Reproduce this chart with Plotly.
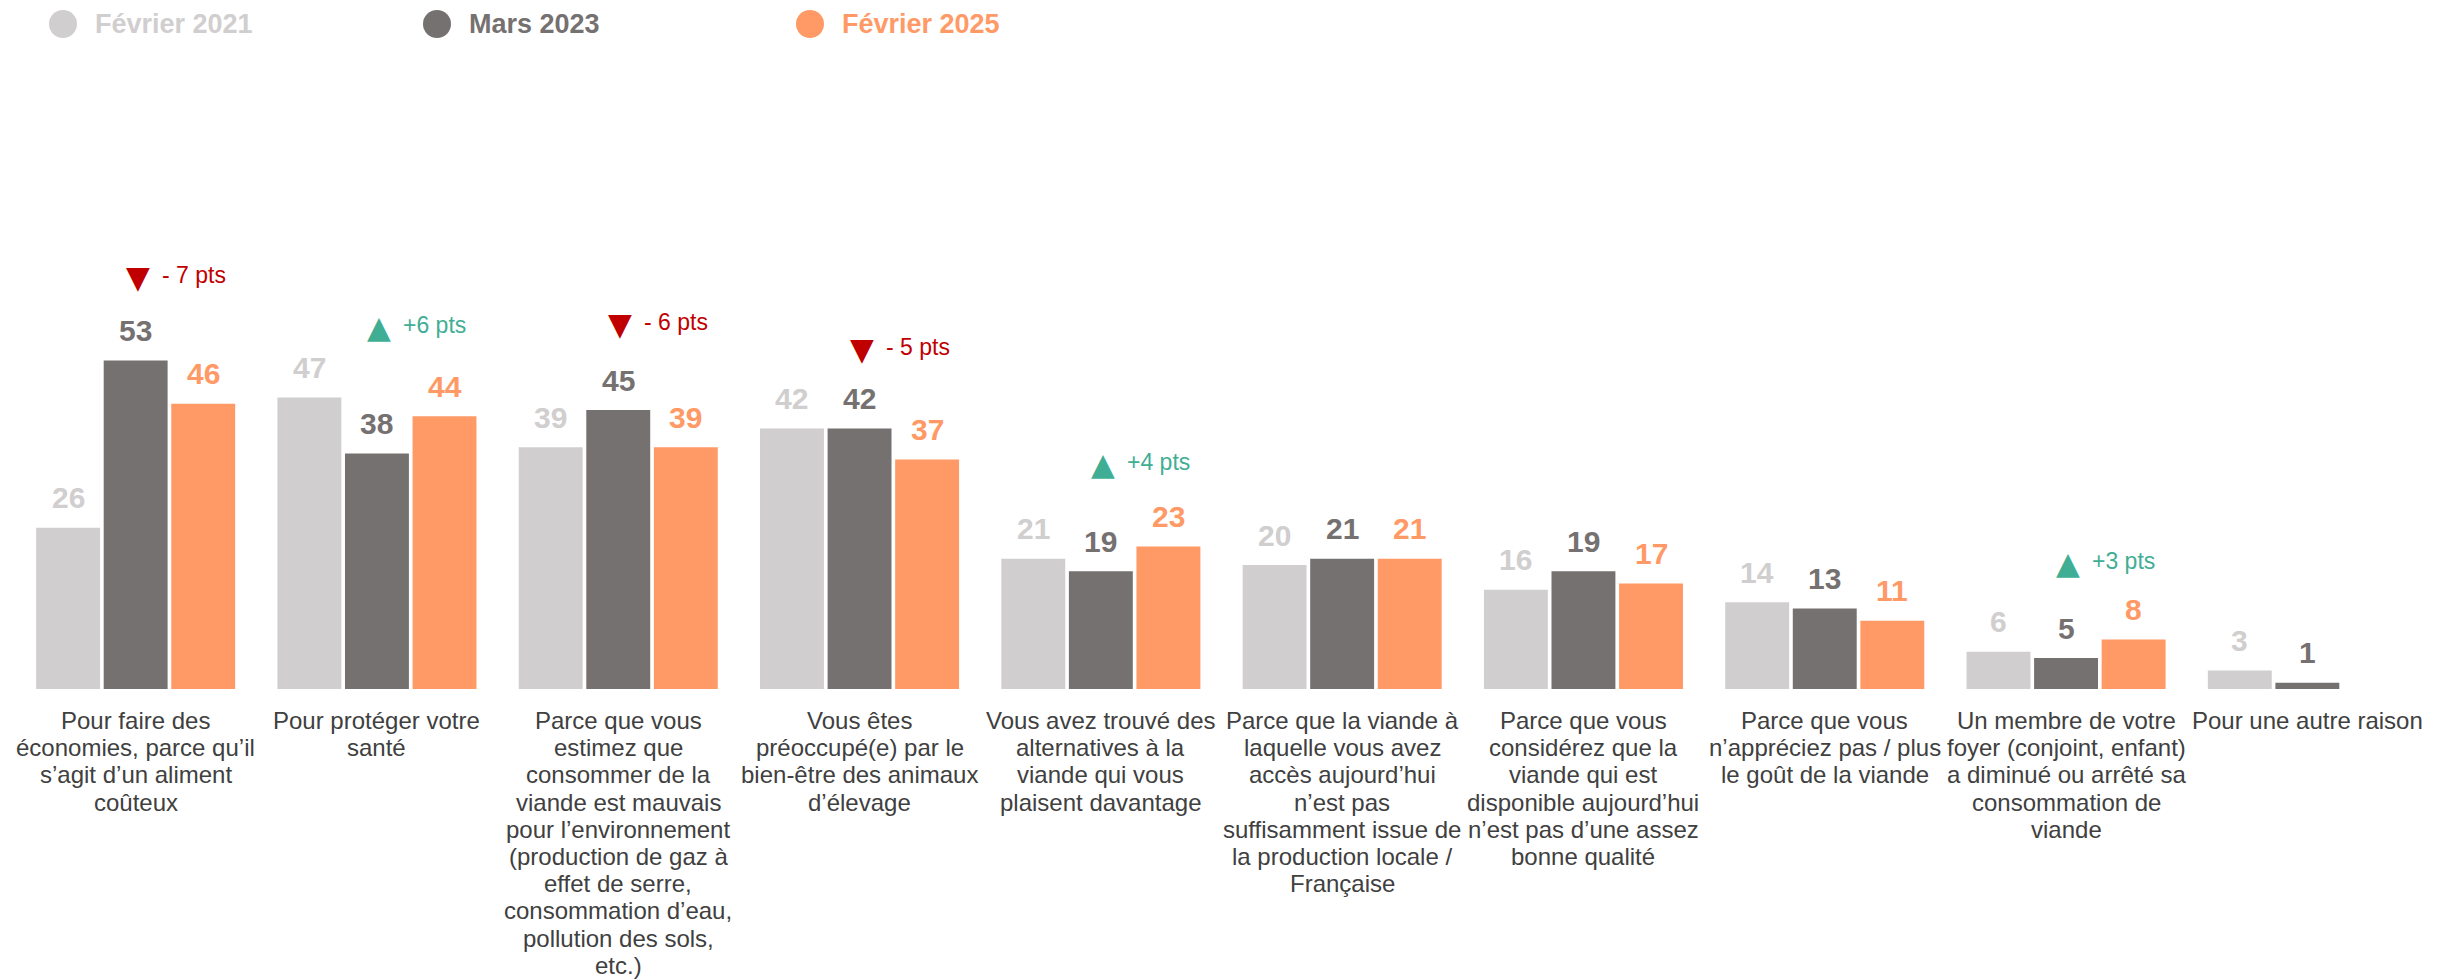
import plotly.graph_objects as go

# ---------------- data ----------------
categories = [
    "Pour faire des<br>économies, parce qu’il<br>s’agit d’un aliment<br>coûteux",
    "Pour protéger votre<br>santé",
    "Parce que vous<br>estimez que<br>consommer de la<br>viande est mauvais<br>pour l’environnement<br>(production de gaz à<br>effet de serre,<br>consommation d’eau,<br>pollution des sols,<br>etc.)",
    "Vous êtes<br>préoccupé(e) par le<br>bien-être des animaux<br>d’élevage",
    "Vous avez trouvé des<br>alternatives à la<br>viande qui vous<br>plaisent davantage",
    "Parce que la viande à<br>laquelle vous avez<br>accès aujourd’hui<br>n’est pas<br>suffisamment issue de<br>la production locale /<br>Française",
    "Parce que vous<br>considérez que la<br>viande qui est<br>disponible aujourd’hui<br>n’est pas d’une assez<br>bonne qualité",
    "Parce que vous<br>n’appréciez pas / plus<br>le goût de la viande",
    "Un membre de votre<br>foyer (conjoint, enfant)<br>a diminué ou arrêté sa<br>consommation de<br>viande",
    "Pour une autre raison",
]
series_names = ["Février 2021", "Mars 2023", "Février 2025"]
fev2021 = [26, 47, 39, 42, 21, 20, 16, 14, 6, 3]
mars2023 = [53, 38, 45, 42, 19, 21, 19, 13, 5, 1]
fev2025 = [46, 44, 39, 37, 23, 21, 17, 11, 8, None]

change_labels = ["- 7 pts", "+6 pts", "- 6 pts", "- 5 pts", "+4 pts", None, None, None, "+3 pts", None]
change_level = [66.4, 58.4, 58.8, 54.8, 36.3, None, None, None, 20.4, None]

# ---------------- style ----------------
FONT = "Arial, Liberation Sans, sans-serif"
colors = ["#D0CECE", "#767171", "#FF9966"]
RED = "#C00000"
TEAL = "#3FAE94"
TXT = "#404040"
BARGAP = 0.16
GROUPGAP = 0.054

PAGE_OFF = 8  # default body margin of the html page
W, H = 2445 - 2 * PAGE_OFF, 979 - PAGE_OFF
ML, MT = 15 - PAGE_OFF, 69 - PAGE_OFF
PW, PH = 2413, 620
MR = W - ML - PW
MB = H - MT - PH

fig = go.Figure()
x_idx = list(range(len(categories)))
all_series = [fev2021, mars2023, fev2025]

for name, vals, col in zip(series_names, all_series, colors):
    fig.add_trace(go.Bar(x=x_idx, y=vals, name=name, marker=dict(color=col, line=dict(width=0)),
                         showlegend=False, hoverinfo="skip"))

slot = (1 - BARGAP) / 3
# value labels
for k, (vals, col) in enumerate(zip(all_series, colors)):
    for i, v in enumerate(vals):
        if v is None:
            continue
        fig.add_annotation(x=i + (k - 1) * slot, y=v, xref="x", yref="y", text=str(v),
                           showarrow=False, xanchor="center", yanchor="middle", yshift=30,
                           font=dict(family=FONT, size=30, color=col, weight="bold"))

# category labels (line by line)
for i, cat in enumerate(categories):
    for j, line in enumerate(cat.split("<br>")):
        fig.add_annotation(x=i, y=0, xref="x", yref="y", text=line, showarrow=False,
                           xanchor="center", yanchor="middle", yshift=-(31.5 + j * 27.2),
                           font=dict(family=FONT, size=24, color=TXT))

# evolution indicators
for i, (lab, lvl) in enumerate(zip(change_labels, change_level)):
    if lab is None:
        continue
    up = lab.startswith("+")
    col = TEAL if up else RED
    fig.add_annotation(x=i, y=lvl, xref="x", yref="y", text="▲" if up else "▼", showarrow=False,
                       xanchor="center", yanchor="middle", xshift=2,
                       font=dict(family="DejaVu Sans", size=31, color=col))
    fig.add_annotation(x=i + 24 / PW * 10, y=lvl, xref="x", yref="y", text=lab, showarrow=False,
                       xanchor="left", yanchor="middle", yshift=2,
                       font=dict(family=FONT, size=23, color=col))

# custom legend
legend_circle_px = [63, 437, 810]
legend_text_px = [93, 467, 840]
legend_y_px = 24
ly = (MT + PH - (legend_y_px - PAGE_OFF)) / PH
for name, col, cx, tx in zip(series_names, colors, legend_circle_px, legend_text_px):
    fig.add_shape(type="circle", xref="paper", yref="paper", xsizemode="pixel", ysizemode="pixel",
                  xanchor=(cx - PAGE_OFF - ML) / PW, yanchor=ly, x0=-14, x1=14, y0=-14, y1=14,
                  fillcolor=col, line=dict(width=0))
    fig.add_annotation(x=(tx - PAGE_OFF - ML) / PW, y=ly, xref="paper", yref="paper", text=name,
                       showarrow=False, xanchor="left", yanchor="middle",
                       font=dict(family=FONT, size=27, color=col, weight="bold"))

fig.update_layout(
    width=W, height=H,
    margin=dict(l=ML, r=MR, t=MT, b=MB),
    barmode="group", bargap=BARGAP, bargroupgap=GROUPGAP,
    plot_bgcolor="white", paper_bgcolor="white",
    xaxis=dict(range=[-0.5, len(categories) - 0.5], visible=False, fixedrange=True),
    yaxis=dict(range=[0, 100], visible=False, fixedrange=True),
    showlegend=False,
)

fig.write_html("out.html")
